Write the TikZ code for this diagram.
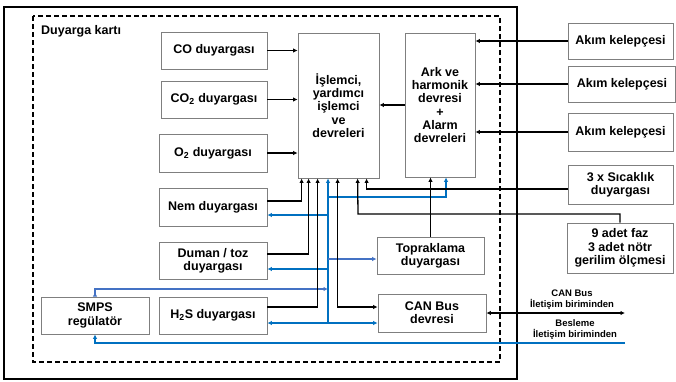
\documentclass[tikz,border=0pt]{standalone}
\usepackage{fontspec}
\setmainfont{Liberation Sans}
\usetikzlibrary{arrows.meta}
\definecolor{cizgigri}{HTML}{7F7F7F}
\definecolor{koyumavi}{HTML}{0070C0}
\definecolor{acikmavi}{HTML}{4472C4}
\begin{document}
\begin{tikzpicture}[
        x=1pt, y=-1pt,
        every node/.style={font=\bfseries\fontsize{12.5}{13.3}\selectfont, align=center, inner sep=0pt},
        kutu/.style={draw=cizgigri, line width=0.8pt, fill=white},
        etiket/.style={font=\bfseries\fontsize{9.5}{11}\selectfont},
        ok/.style={line width=1.3pt, -{Latex[length=4.5pt,width=4.5pt]}},
        ciftok/.style={line width=1.3pt, {Latex[length=4.5pt,width=4.5pt]}-{Latex[length=4.5pt,width=4.5pt]}},
        maviok/.style={line width=1.3pt, draw=koyumavi, -{Latex[length=4.5pt,width=4.5pt]}},
        acikok/.style={line width=1.3pt, draw=acikmavi, -{Latex[length=4.5pt,width=4.5pt]}}
    ]
    \useasboundingbox (0,0) rectangle (676,381);

    % cerceveler
    \draw[line width=1.6pt] (4,7) rectangle (517,379);
    \draw[line width=1.6pt, dash pattern=on 5pt off 3pt] (33,16) rectangle (500,362);
    \node[anchor=west] (baslik) at (41,31) {Duyarga kartı};

    % kutular
    \node[kutu, minimum width=106pt, minimum height=37pt] (co) at (214,50.5) {CO duyargası};
    \node[kutu, minimum width=106pt, minimum height=37pt] (coiki) at (214,99.5) {CO\textsubscript{2} duyargası};
    \node[kutu, minimum width=108pt, minimum height=38pt] (oiki) at (213,153) {O\textsubscript{2} duyargası};
    \node[kutu, minimum width=81pt, minimum height=145pt] (islemci) at (338.5,105.5) {İşlemci,\\yardımcı\\işlemci\\ve\\devreleri};
    \node[kutu, minimum width=70pt, minimum height=144pt] (ark) at (440,105) {Ark ve\\harmonik\\devresi\\+\\Alarm\\devreleri};
    \node[kutu, minimum width=105pt, minimum height=36pt] (akimbir) at (620.5,41) {Akım kelepçesi};
    \node[kutu, minimum width=107pt, minimum height=36pt] (akimiki) at (622,84) {Akım kelepçesi};
    \node[kutu, minimum width=105pt, minimum height=38pt] (akimuc) at (620.5,132) {Akım kelepçesi};
    \node[kutu, minimum width=105pt, minimum height=39pt] (sicaklik) at (620.5,184.5) {3 x Sıcaklık\\duyargası};
    \node[kutu, minimum width=106pt, minimum height=50pt] (faz) at (620,248) {9 adet faz\\3 adet nötr\\gerilim ölçmesi};
    \node[kutu, minimum width=108pt, minimum height=38pt] (nem) at (213,207) {Nem duyargası};
    \node[kutu, minimum width=108pt, minimum height=37pt] (duman) at (213,260.5) {Duman / toz\\duyargası};
    \node[kutu, minimum width=108pt, minimum height=37pt] (smps) at (95,315.5) {SMPS\\regülatör};
    \node[kutu, minimum width=108pt, minimum height=37pt] (hiks) at (213,315.5) {H\textsubscript{2}S duyargası};
    \node[kutu, minimum width=107pt, minimum height=37pt] (toprak) at (430.5,255.5) {Topraklama\\duyargası};
    \node[kutu, minimum width=108pt, minimum height=38pt] (canbus) at (432,313) {CAN Bus\\devresi};

    % dis etiketler
    \node[etiket] (canetiket) at (572,299.5) {CAN Bus\\İletişim biriminden};
    \node[etiket] (beslemeetiket) at (575,329.5) {Besleme\\İletişim biriminden};
    \coordinate (canuc) at (625,313);
    \coordinate (beslemeuc) at (625,343);

    % mavi hat baglantilari
    \coordinate (jark) at (328,197);
    \coordinate (jnem) at (328,215);
    \coordinate (jtoprak) at (328,259);
    \coordinate (jduman) at (328,269);
    \coordinate (jsmps) at (328,289);
    \coordinate (jalt) at (328,323);
    \coordinate (jfaz) at (358,214);

    % siyah oklar
    \draw[ok] (co) -- (co -| islemci.west);
    \draw[ok] (coiki) -- (coiki -| islemci.west);
    \draw[ok] (oiki) -- (oiki -| islemci.west);
    \draw[ok] (ark.west) -- (ark.west -| islemci.east);
    \draw[ok] (akimbir) -- (akimbir -| ark.east);
    \draw[ok] (akimiki) -- (akimiki -| ark.east);
    \draw[ok] (akimuc) -- (akimuc -| ark.east);

    % mavi besleme hatlari
    \draw[maviok] (jalt) -- (jalt |- islemci.south);
    \draw[maviok] (jark) -| ([xshift=6pt]ark.south);
    \draw[maviok] (jnem) -- (jnem -| nem.east);
    \draw[maviok] (jduman) -- (jduman -| duman.east);
    \draw[acikok] (jtoprak) -- (jtoprak -| toprak.west);
    \draw[line width=1.3pt, draw=acikmavi, {Latex[length=4.5pt,width=4.5pt,reversed]}-{Latex[length=4.5pt,width=4.5pt]}] (smps.north) |- (jsmps);
    \draw[maviok] (jalt) -- (jalt -| hiks.east);
    \draw[maviok] (jalt) -- (jalt -| canbus.west);
    \draw[maviok] (beslemeuc) -| (smps.south);

    % siyah olcum hatlari
    \draw[ok] ([yshift=6pt]nem.east) -| ([xshift=4pt]islemci.south west);
    \draw[ok] ([yshift=6.5pt]duman.east) -| ([xshift=11pt]islemci.south west);
    \draw[ok] ([yshift=8.5pt]hiks.east) -| ([xshift=20pt]islemci.south west);
    \draw[ciftok] ([xshift=40pt]islemci.south west) |- ([yshift=6pt]canbus.west);
    \draw[ok] (faz.north) |- (jfaz) -- ([xshift=60pt]islemci.south west);
    \draw[ok] ([yshift=-4.5pt]sicaklik.west) -| ([xshift=69pt]islemci.south west);
    \draw[ok] (toprak.north) -- (toprak.north |- ark.south);
    \draw[ciftok] (canbus.east) -- (canuc);
\end{tikzpicture}
\end{document}
